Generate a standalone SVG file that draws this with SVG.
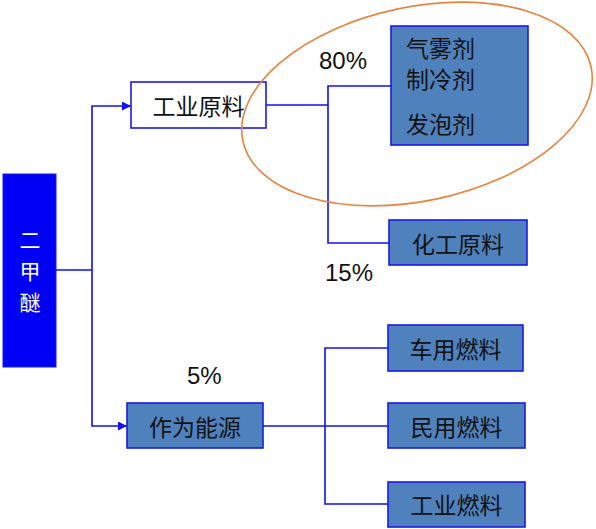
<svg xmlns="http://www.w3.org/2000/svg" width="596" height="529" viewBox="0 0 596 529">
<defs>
<style>
.conn{fill:none;stroke:#1010F0;stroke-width:1.6}
.box{fill:#4F81BD;stroke:#1A1AE6;stroke-width:1.6}
.wbox{fill:#FFFFFF;stroke:#1A1AE6;stroke-width:1.6}
.t{font-family:"Noto Sans CJK SC","Noto Sans",sans-serif;font-size:23px;fill:#111;dominant-baseline:central}
.p{font-family:"Liberation Sans",Arial,sans-serif;font-size:24px;fill:#111;dominant-baseline:central}
.w{font-family:"Noto Sans CJK SC",sans-serif;font-size:21px;fill:#FFFFFF;dominant-baseline:central;text-anchor:middle}
</style>
<marker id="arr" viewBox="0 0 10 10" refX="10" refY="5" markerWidth="10" markerHeight="9" markerUnits="userSpaceOnUse" orient="auto">
<path d="M0,0 L10,5 L0,10 Z" fill="#1010F0"/>
</marker>
</defs>
<rect width="596" height="529" fill="#FFFFFF"/>
<g id="connectors">
<path class="conn" d="M56,270 H92"/>
<path class="conn" d="M92,270 V106 H131" marker-end="url(#arr)"/>
<path class="conn" d="M92,270 V426 H127" marker-end="url(#arr)"/>
<path class="conn" d="M266,105 H328"/>
<path class="conn" d="M391,86 H328 V243 H389"/>
<path class="conn" d="M263,426 H388"/>
<path class="conn" d="M388,348 H325 V504 H388"/>
</g>
<g id="dme">
<rect x="3" y="174" width="53" height="193" fill="#0000F5" stroke="#1A1AE6"/>
<text class="w" x="30" y="239">二</text>
<text class="w" x="30" y="270">甲</text>
<text class="w" x="30" y="301">醚</text>
</g>
<g id="industrial-raw">
<rect class="wbox" x="131" y="82" width="135" height="46"/>
<text class="t" x="198.5" y="105" text-anchor="middle">工业原料</text>
</g>
<g id="aerosol">
<rect class="box" x="391" y="26" width="137" height="119"/>
<text class="t" x="406" y="47">气雾剂</text>
<text class="t" x="406" y="78">制冷剂</text>
<text class="t" x="406" y="123">发泡剂</text>
</g>
<g id="chem-raw">
<rect class="box" x="389" y="220" width="138" height="45"/>
<text class="t" x="458" y="243" text-anchor="middle">化工原料</text>
</g>
<g id="energy">
<rect class="box" x="127" y="403" width="136" height="45"/>
<text class="t" x="195" y="426" text-anchor="middle">作为能源</text>
</g>
<g id="vehicle-fuel">
<rect class="box" x="388" y="325" width="135" height="46"/>
<text class="t" x="455.5" y="348" text-anchor="middle">车用燃料</text>
</g>
<g id="civil-fuel">
<rect class="box" x="388" y="403" width="137" height="45"/>
<text class="t" x="456.5" y="426" text-anchor="middle">民用燃料</text>
</g>
<g id="industrial-fuel">
<rect class="box" x="388" y="482" width="137" height="45"/>
<text class="t" x="456.5" y="504" text-anchor="middle">工业燃料</text>
</g>
<g id="labels">
<text class="p" x="319" y="60">80%</text>
<text class="p" x="325" y="272">15%</text>
<text class="p" x="187" y="375">5%</text>
</g>
<g id="highlight">
<ellipse cx="417" cy="104" rx="178" ry="97" transform="rotate(-12 417 104)" fill="none" stroke="#E8833F" stroke-width="1.6"/>
</g>
</svg>
